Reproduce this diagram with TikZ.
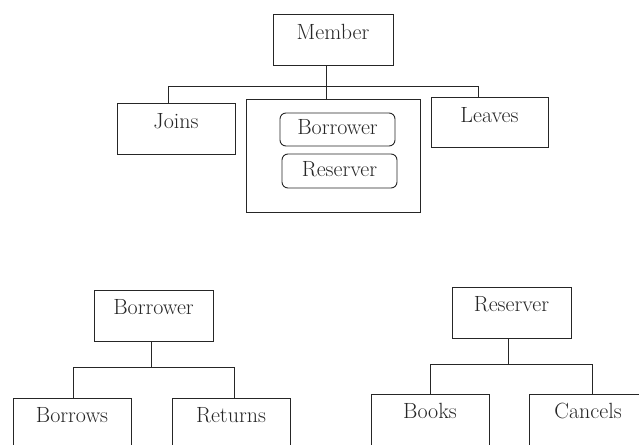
\documentclass[tikz,border=0pt]{standalone}
\usepackage{amsmath,amssymb}
\usepackage{tikz}

\tikzset{
  box/.style={draw, inner sep=0pt, minimum width=118pt, anchor=north},
  role/.style={draw, rounded corners=6pt, inner sep=0pt, minimum width=115pt},
  link/.style={line width=0.9pt}
}

\begin{document}
\begin{tikzpicture}[x=1pt, y=-1pt, line width=0.9pt, color=black!85,
    every node/.style={font=\fontsize{22}{26}\selectfont}]
              \useasboundingbox (0,0) rectangle (639,444);
              \clip (0,0) rectangle (639,444);
              \node[box, minimum width=120pt, text height=25pt, text depth=26pt] (member) at (333,14) {Member};
              \node[box, text height=25pt, text depth=26pt] (joins) at (176,103) {Joins};
              \node[box, minimum width=117pt, text height=25pt, text depth=25pt] (leaves) at (489.5,97) {Leaves};
              \node[box, minimum width=174pt, minimum height=113pt] (roles) at (333,99) {};
              \node[role, text height=17pt, text depth=7pt, minimum height=33pt] (borrowerRole) at (337.5,129.5) {Borrower};
              \node[role, text height=17pt, text depth=7pt, minimum height=34pt] (reserverRole) at (339.5,171) {Reserver};
              \draw[link] ([xshift=-7pt]member.south) -- ([xshift=-7pt]roles.north);
              \draw[link] ([xshift=-8pt]joins.north) -- ++(0,-17) -| ([xshift=-11pt]leaves.north);
              \node[box, minimum width=119pt, text height=24pt, text depth=27pt] (borrower) at (153.5,290) {Borrower};
              \node[box, text height=24pt, text depth=60pt] (borrows) at (72,398) {Borrows};
              \node[box, text height=24pt, text depth=60pt] (returns) at (231,398) {Returns};
              \draw[link] ([xshift=-2.5pt]borrower.south) -- ++(0,26) coordinate (lbus);
              \draw[link] ([xshift=1pt]borrows.north) |- (lbus) -| ([xshift=3pt]returns.north);
              \node[box, minimum width=119pt, text height=24pt, text depth=27pt] (reserver) at (511.5,287) {Reserver};
              \node[box, text height=24pt, text depth=60pt] (books) at (430,394) {Books};
              \node[box, text height=24pt, text depth=60pt] (cancels) at (588,394) {Cancels};
              \draw[link] ([xshift=-3.5pt]reserver.south) -- ++(0,26) coordinate (rbus);
              \draw[link] (books.north) |- (rbus) -| ([xshift=4pt]cancels.north);
          \end{tikzpicture}
\end{document}
